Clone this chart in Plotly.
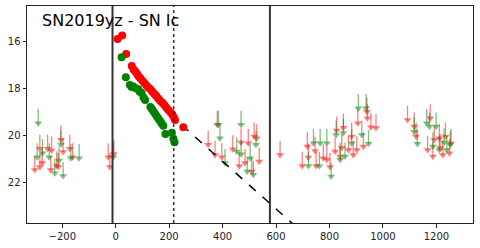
import plotly.graph_objects as go

# ---- data ----
det_r_x = [7, 24, 39, 60, 67, 74, 80, 86, 92, 100, 107, 115, 122, 130, 137, 145, 152, 160, 167, 175, 182, 190, 197, 205, 212, 218, 222, 253]
det_r_y = [15.90, 15.76, 16.54, 17.05, 17.20, 17.30, 17.40, 17.50, 17.58, 17.68, 17.78, 17.88, 17.97, 18.05, 18.15, 18.25, 18.33, 18.45, 18.55, 18.62, 18.72, 18.83, 18.93, 19.02, 19.12, 19.25, 19.35, 19.66]

det_g_x = [22, 38, 53, 60, 66, 75, 84, 90, 97, 104, 110, 130, 136, 142, 148, 154, 160, 166, 172, 178, 186, 210, 216, 220]
det_g_y = [16.68, 17.53, 17.86, 17.95, 17.93, 18.00, 18.05, 18.15, 18.20, 18.40, 18.50, 18.80, 18.90, 19.00, 19.10, 19.20, 19.30, 19.40, 19.50, 19.60, 19.95, 19.90, 20.15, 20.30]

lim_r_x = [-205, -284, -255, -240, -172, -197, -303, -284, -275, -243, -221, -215, -161, -28, -22, -7,
           346, 380, 372, 397, 438, 469, 496, 518, 528, 484, 462, 509, 537, 615,
           698, 721, 717, 746, 750, 777, 790, 802, 821, 827, 840, 852, 846, 871, 883, 889, 902, 906, 927, 940, 942, 955, 974,
           1092, 1117, 1124, 1177, 1167, 1187, 1192, 1211, 1214, 1224, 1234, 1249, 1255]
lim_r_y = [20.19, 20.58, 20.58, 20.65, 20.58, 20.72, 21.48, 21.36, 21.19, 21.48, 21.29, 21.36, 20.94, 20.94, 21.36, 20.80,
           20.41, 19.56, 20.84, 20.94, 20.60, 20.31, 20.34, 20.06, 20.13, 21.19, 21.31, 21.55, 21.12, 20.84,
           21.31, 20.95, 20.48, 20.67, 21.31, 20.98, 21.05, 21.36, 20.70, 19.80, 20.91, 19.68, 20.55, 20.63, 20.06, 20.84, 20.63, 19.49, 20.48, 19.00, 19.28, 19.66, 19.70,
           19.35, 19.63, 20.06, 19.28, 20.63, 20.91, 20.20, 20.13, 20.55, 20.84, 20.06, 20.77, 20.34]

lim_g_x = [-290, -205, -294, -274, -249, -228, -197, -168, -137, -9, -212,
           384, 390, 409, 469, 453, 525, 503, 492, 515, 469,
           721, 740, 765, 762, 790, 806, 825, 840, 852, 858, 883, 908, 921, 937, 946,
           1117, 1129, 1164, 1174, 1199, 1187, 1211, 1229, 1239, 1252]
lim_g_y = [19.49, 20.40, 20.94, 20.77, 20.94, 21.62, 21.74, 20.98, 20.98, 20.94, 21.08,
           19.56, 20.13, 21.19, 19.56, 20.70, 20.41, 20.98, 21.55, 21.69, 20.81,
           21.31, 20.34, 20.34, 21.31, 20.34, 21.76, 19.99, 21.05, 19.91, 20.91, 20.34, 18.85, 19.99, 18.85, 20.37,
           19.85, 20.37, 19.49, 19.63, 19.63, 20.48, 20.63, 20.31, 20.63, 20.41]

vlines_solid = [-12, 577]
vlines_dotted = [217]
decay_x = [247, 700]
decay_y = [19.57, 24.15]

title_text = "SN2019yz - SN Ic"
x_ticks = [-200, 0, 200, 400, 600, 800, 1000, 1200]
y_ticks = [16, 18, 20, 22]

ARROW_LEN = 0.6

fig = go.Figure()


def add_limits(xs, ys, color):
    lx, ly = [], []
    for x, y in zip(xs, ys):
        lx += [x, x, None]
        ly += [y - ARROW_LEN, y, None]
    fig.add_trace(go.Scatter(x=lx, y=ly, mode="lines", line=dict(color=color, width=1.3),
                             hoverinfo="skip", showlegend=False))
    fig.add_trace(go.Scatter(x=xs, y=ys, mode="markers",
                             marker=dict(symbol="triangle-down", size=7, color=color, line=dict(width=0)),
                             showlegend=False))


add_limits(lim_r_x, lim_r_y, "rgba(255,0,0,0.5)")
add_limits(lim_g_x, lim_g_y, "rgba(0,128,0,0.5)")

fig.add_trace(go.Scatter(x=decay_x, y=decay_y, mode="lines",
                         line=dict(color="black", width=1.5, dash="dash"), showlegend=False))

fig.add_trace(go.Scatter(x=det_r_x, y=det_r_y, mode="markers",
                         marker=dict(color="red", size=8, line=dict(width=0)), showlegend=False))
fig.add_trace(go.Scatter(x=det_g_x, y=det_g_y, mode="markers",
                         marker=dict(color="green", size=8, line=dict(width=0)), showlegend=False))

for v in vlines_solid:
    fig.add_shape(type="line", x0=v, x1=v, y0=0, y1=1, xref="x", yref="paper",
                  line=dict(color="#333333", width=2))
for v in vlines_dotted:
    fig.add_shape(type="line", x0=v, x1=v, y0=0, y1=1, xref="x", yref="paper",
                  line=dict(color="#333333", width=1.5, dash="dot"))

fig.add_annotation(text=title_text, xref="paper", yref="paper", x=0.029, y=0.985,
                   xanchor="left", yanchor="top", showarrow=False,
                   font=dict(family="DejaVu Sans", size=16, color="black"))

axis_common = dict(showgrid=False, zeroline=False, showline=True, linecolor="#222222", linewidth=1,
                   mirror=True, ticks="outside", ticklen=3.5, tickwidth=0.8, tickcolor="#222222",
                   tickfont=dict(family="DejaVu Sans", size=10, color="#222222"))

fig.update_xaxes(range=[-332, 1337], tickvals=x_ticks, ticktext=[str(t).replace("-", "\u2212") for t in x_ticks],
                 **axis_common)
fig.update_yaxes(range=[23.74, 14.50], tickvals=y_ticks, ticktext=[str(t) for t in y_ticks], **axis_common)

fig.update_layout(width=480, height=248, margin=dict(l=27, r=7, t=6, b=25),
                  plot_bgcolor="white", paper_bgcolor="white", showlegend=False)

fig.write_html("out.html")
